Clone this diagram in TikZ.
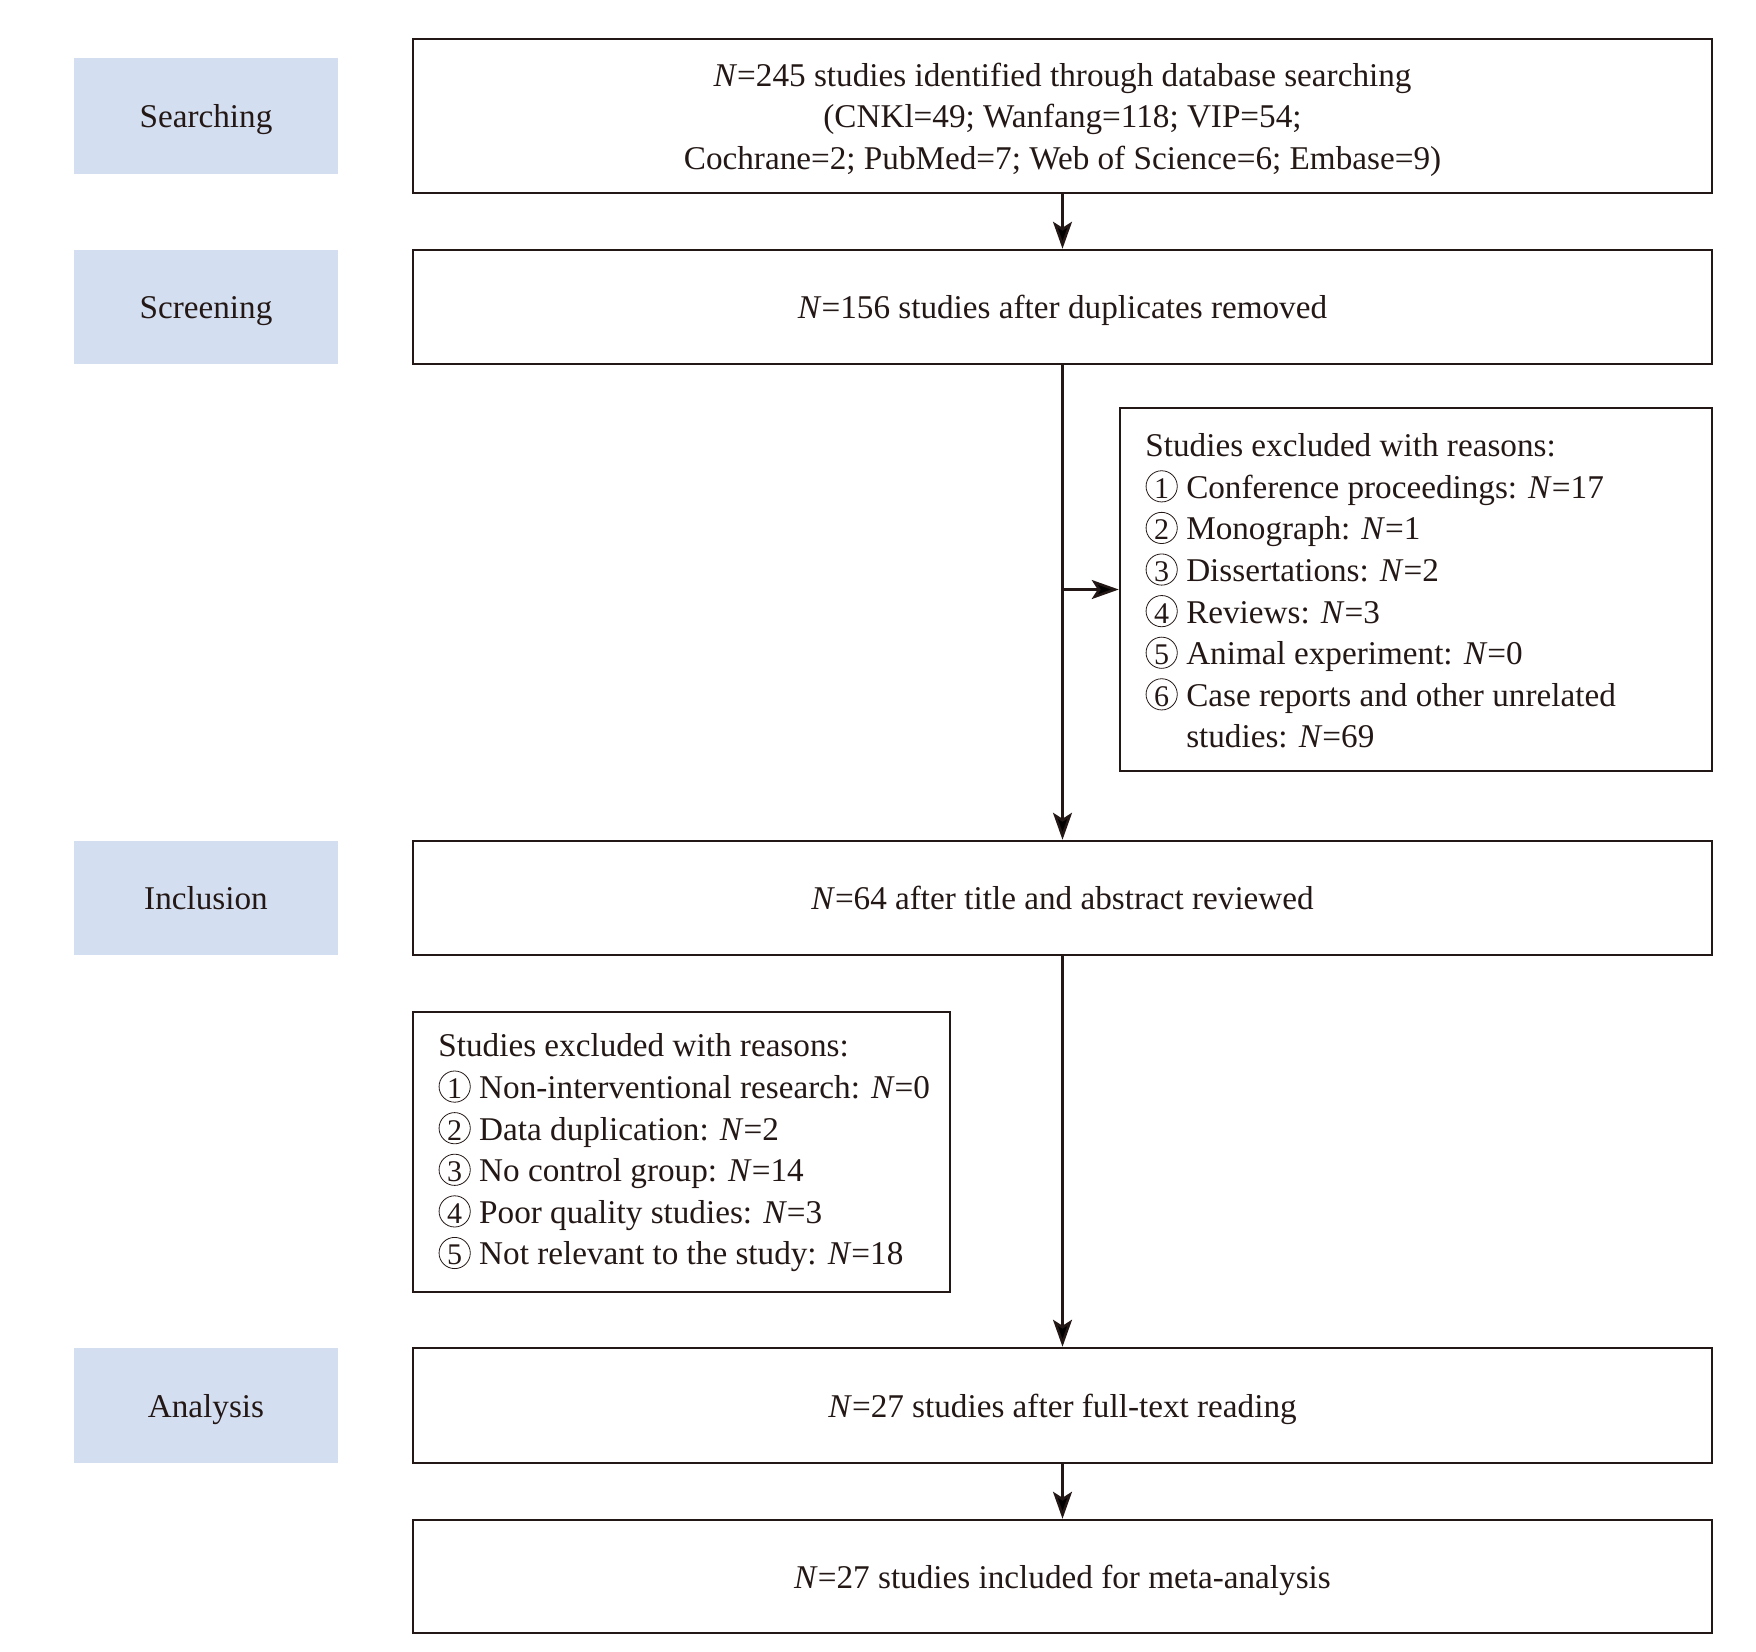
\documentclass[tikz,border=0pt]{standalone}
\usepackage{fontspec}
\setmainfont{Liberation Serif}
\usetikzlibrary{arrows.meta}
\definecolor{linecol}{RGB}{35,24,21}
\definecolor{labfill}{RGB}{212,222,241}
\newcommand\bodyfont{\fontsize{16.6pt}{20.8pt}\selectfont}
\newcommand\cnum[1]{\makebox[0.98em]{\makebox[0pt]{\tikz[baseline=-0.36em]\draw[line width=0.4pt,draw=linecol,fill=none] (0,0) circle[radius=0.47em];}\makebox[0pt]{\fontsize{15pt}{15pt}\selectfont #1}}}
\newcommand\NN{\textit{N}}
\begin{document}
\begin{tikzpicture}[x=0.5pt,y=-0.5pt,
  mainbox/.style={draw=linecol,line width=1.25pt,minimum width=649.5pt,inner sep=0pt,align=center,text=linecol,font=\bodyfont,text depth=0pt},
  labbox/.style={fill=labfill,minimum width=132pt,inner sep=0pt,text=linecol,font=\bodyfont,text depth=0pt},
  exclframe/.style={draw=linecol,line width=1.25pt,inner sep=0pt},
  excltext/.style={anchor=west,align=left,inner sep=0pt,text=linecol,font=\bodyfont},
  arr/.style={draw=linecol,line width=1.25pt,-{Stealth[length=13.5pt,width=9.5pt,inset=3pt]}}]
\useasboundingbox (0,0) rectangle (1756,1651);

% stage labels
\node[labbox,minimum height=58pt] (l1) at (206,116) {Searching};
\node[labbox,minimum height=57pt] (l2) at (206,307) {Screening};
\node[labbox,minimum height=57pt] (l3) at (206,898) {Inclusion};
\node[labbox,minimum height=57.5pt] (l4) at (206,1405.5) {Analysis};

% main boxes
\node[mainbox,minimum height=77pt] (b1) at (1062.5,116) {\NN=245 studies identified through database searching\\(CNKl=49; Wanfang=118; VIP=54;\\Cochrane=2; PubMed=7; Web of Science=6; Embase=9)};
\node[mainbox,minimum height=57pt] (b2) at (1062.5,307) {\NN=156 studies after duplicates removed};
\node[mainbox,minimum height=57pt] (b3) at (1062.5,898) {\NN=64 after title and abstract reviewed};
\node[mainbox,minimum height=57.5pt] (b4) at (1062.5,1405.5) {\NN=27 studies after full-text reading};
\node[mainbox,minimum height=56.5pt] (b5) at (1062.5,1576.5) {\NN=27 studies included for meta-analysis};

% exclusion boxes
\node[exclframe,minimum width=296pt,minimum height=181.5pt] (e1) at (1416,589.5) {};
\node[excltext] (e1t) at (1145,591) {Studies excluded with reasons:\\
\cnum{1} Conference proceedings: \NN=17\\
\cnum{2} Monograph: \NN=1\\
\cnum{3} Dissertations: \NN=2\\
\cnum{4} Reviews: \NN=3\\
\cnum{5} Animal experiment: \NN=0\\
\cnum{6} Case reports and other unrelated\\
\hphantom{\cnum{6} }studies: \NN=69};

\node[exclframe,minimum width=268.5pt,minimum height=140pt] (e2) at (681.5,1152) {};
\node[excltext] (e2t) at (438,1153) {Studies excluded with reasons:\\
\cnum{1} Non-interventional research: \NN=0\\
\cnum{2} Data duplication: \NN=2\\
\cnum{3} No control group: \NN=14\\
\cnum{4} Poor quality studies: \NN=3\\
\cnum{5} Not relevant to the study: \NN=18};

% connectors
\draw[arr] (b1.south) -- (b2.north);
\draw[arr] (b2.south) -- (b3.north);
\coordinate (br) at (b2.south |- e1.west);
\draw[arr] (br) -- (e1.west);
\draw[arr] (b3.south) -- (b4.north);
\draw[arr] (b4.south) -- (b5.north);
\end{tikzpicture}
\end{document}
